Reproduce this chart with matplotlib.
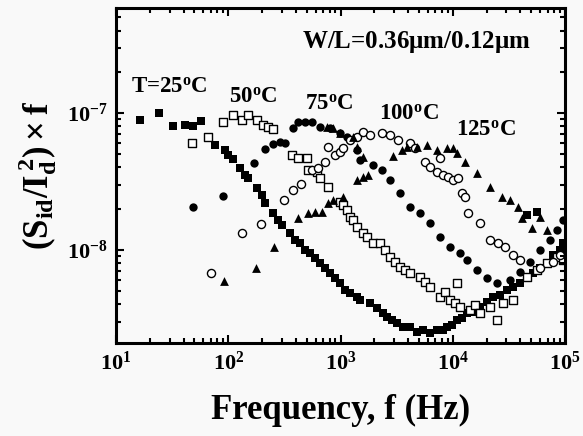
import matplotlib
matplotlib.use("Agg")
import matplotlib.pyplot as plt
from matplotlib.ticker import LogLocator, NullFormatter

# data: frequency (Hz) and normalized noise (S_id/I_d^2)*f
f25 = [16.4, 24.2, 32.2, 41.2, 48.5, 57.2, 76.2, 93.5, 99.5, 110, 127, 141, 150, 180, 200,
       212, 250, 277, 301, 355, 394, 436, 483, 535, 593, 656, 728, 805, 893, 990, 1096, 1216,
       1403, 1493, 1832, 2115, 2393, 2596, 2877, 3187, 3606, 4159, 4801, 5433, 6266, 7244,
       8185, 8893, 9840, 10920, 12090, 13400, 15140, 17490, 20190, 22840, 26370, 30410,
       34430, 39700, 45830, 51850, 59880, 69180, 78200, 90190, 95950, 45830, 56360]
s25 = [8.89e-8, 1.00e-7, 8.04e-8, 8.17e-8, 8.04e-8, 8.74e-8, 5.84e-8, 5.37e-8, 4.93e-8,
       4.61e-8, 3.97e-8, 3.53e-8, 3.35e-8, 2.84e-8, 2.52e-8, 2.20e-8, 1.86e-8, 1.66e-8,
       1.52e-8, 1.33e-8, 1.18e-8, 1.12e-8, 1.00e-8, 9.51e-9, 8.75e-9, 8.04e-9, 7.39e-9,
       6.79e-9, 6.25e-9, 5.74e-9, 5.11e-9, 4.85e-9, 4.54e-9, 4.32e-9, 4.10e-9, 3.78e-9,
       3.47e-9, 3.24e-9, 3.08e-9, 2.93e-9, 2.74e-9, 2.74e-9, 2.52e-9, 2.61e-9, 2.48e-9,
       2.61e-9, 2.61e-9, 2.74e-9, 2.84e-9, 3.08e-9, 3.19e-9, 3.47e-9, 3.53e-9, 3.84e-9,
       4.17e-9, 4.54e-9, 4.69e-9, 5.11e-9, 5.37e-9, 5.74e-9, 6.25e-9, 6.79e-9, 7.39e-9,
       8.04e-9, 9.20e-9, 1.00e-8, 1.12e-8, 1.80e-8, 1.89e-8]

f50 = [47.5, 66.1, 89.8, 110, 133, 150, 180, 204, 226, 250, 370, 418, 504, 513, 618, 656,
       774, 990, 1053, 1143, 1216, 1293, 1403, 1585, 1723, 1949, 2249, 2489, 2761, 3062,
       3388, 3757, 4159, 5108, 5662, 6266, 7696, 8530, 9461, 10470, 10920, 11610, 14250,
       15780, 17490, 21480, 24790, 28050, 34430, 45830, 56360, 69180, 84880, 95950]
s50 = [6.04e-8, 6.68e-8, 8.60e-8, 9.67e-8, 8.89e-8, 9.67e-8, 8.89e-8, 8.17e-8, 7.90e-8,
       7.64e-8, 4.93e-8, 4.69e-8, 4.69e-8, 3.84e-8, 3.71e-8, 3.35e-8, 2.88e-8, 2.24e-8,
       2.13e-8, 1.96e-8, 1.74e-8, 1.66e-8, 1.47e-8, 1.33e-8, 1.24e-8, 1.12e-8, 1.12e-8,
       1.00e-8, 8.89e-9, 8.17e-9, 7.52e-9, 7.15e-9, 6.79e-9, 6.35e-9, 5.84e-9, 5.37e-9,
       4.54e-9, 4.93e-9, 4.32e-9, 4.10e-9, 5.74e-9, 3.84e-9, 3.65e-9, 3.97e-9, 3.47e-9,
       3.84e-9, 3.08e-9, 4.10e-9, 4.32e-9, 6.35e-9, 7.15e-9, 8.04e-9, 8.89e-9, 8.45e-9]

f75 = [48.5, 89.8, 170, 212, 250, 289, 321, 378, 418, 483, 557, 656, 805, 990, 1143, 1216,
       1403, 1493, 1949, 2344, 2761, 3388, 4159, 5108, 6266, 7696, 9461, 11610, 13400,
       16450, 20190, 24790, 32360, 39700, 48750, 59880, 73480, 84880, 95950]
s75 = [2.06e-8, 2.48e-8, 4.32e-8, 5.46e-8, 5.94e-8, 6.14e-8, 6.04e-8, 7.77e-8, 8.60e-8,
       8.60e-8, 8.60e-8, 7.90e-8, 7.77e-8, 7.15e-8, 6.68e-8, 6.35e-8, 5.37e-8, 4.54e-8,
       4.17e-8, 3.84e-8, 3.24e-8, 2.61e-8, 2.06e-8, 1.86e-8, 1.57e-8, 1.24e-8, 1.05e-8,
       9.51e-9, 8.45e-9, 7.15e-9, 6.25e-9, 5.74e-9, 6.04e-9, 6.91e-9, 8.17e-9, 1.00e-8,
       1.18e-8, 1.40e-8, 1.66e-8]

f100 = [70.2, 133, 196, 314, 378, 445, 557, 631, 728, 774, 893, 990, 1053, 1216, 1403,
        1585, 1832, 2344, 2761, 3252, 4159, 4613, 5662, 6266, 7244, 7696, 8185, 9078,
        10050, 11140, 12090, 12850, 13680, 17490, 21480, 25300, 29190, 34430, 39700,
        59880, 78200, 90190]
s100 = [6.79e-9, 1.33e-8, 1.55e-8, 2.32e-8, 2.74e-8, 3.03e-8, 3.84e-8, 3.97e-8, 4.39e-8,
        5.65e-8, 4.93e-8, 5.19e-8, 5.55e-8, 6.35e-8, 6.68e-8, 7.27e-8, 6.91e-8, 7.15e-8,
        6.91e-8, 6.35e-8, 6.04e-8, 5.55e-8, 4.39e-8, 4.03e-8, 3.71e-8, 4.69e-8, 3.53e-8,
        3.41e-8, 3.24e-8, 3.35e-8, 2.61e-8, 2.44e-8, 1.86e-8, 1.57e-8, 1.18e-8, 1.12e-8,
        1.05e-8, 9.20e-9, 8.45e-9, 7.39e-9, 8.17e-9, 9.20e-9]

f125 = [91.6, 177, 256, 418, 513, 593, 684, 774, 857, 1053, 1403, 1585, 1758, 2938, 3532,
        3910, 4801, 5902, 7244, 8893, 10050, 10920, 12850, 16450, 21480, 27480, 32360,
        38130, 41390, 50790, 59880, 69180, 759, 857, 990, 1293, 1403, 1585]
s125 = [5.94e-9, 7.39e-9, 1.05e-8, 1.71e-8, 1.86e-8, 1.89e-8, 1.89e-8, 2.20e-8, 2.32e-8,
        2.44e-8, 3.24e-8, 3.41e-8, 3.53e-8, 4.85e-8, 5.37e-8, 5.65e-8, 5.65e-8, 5.84e-8,
        5.37e-8, 5.55e-8, 5.55e-8, 5.11e-8, 4.39e-8, 3.65e-8, 2.88e-8, 2.44e-8, 2.32e-8,
        2.06e-8, 1.71e-8, 1.45e-8, 1.74e-8, 1.40e-8, 7.90e-8, 7.77e-8, 7.15e-8, 6.68e-8,
        5.65e-8, 4.77e-8]

plt.rcParams["font.family"] = "Liberation Serif"
plt.rcParams["font.weight"] = "bold"
plt.rcParams["axes.labelweight"] = "bold"
plt.rcParams["mathtext.fontset"] = "custom"
plt.rcParams["mathtext.rm"] = "Liberation Serif:bold"
plt.rcParams["mathtext.it"] = "Liberation Serif:bold"
plt.rcParams["mathtext.bf"] = "Liberation Serif:bold"
plt.rcParams["mathtext.default"] = "bf"

fig = plt.figure(figsize=(5.83, 4.36), dpi=100, facecolor="#f9f9f9")
ax = fig.add_axes([0.199, 0.2133, 0.7702, 0.7683], facecolor="#f9f9f9")

ms = 32
ax.scatter(f25, s25, marker="s", s=ms, c="black", linewidths=0)
ax.scatter(f50, s50, marker="s", s=ms, facecolors="white", edgecolors="black", linewidths=1.0)
ax.scatter(f75, s75, marker="o", s=ms + 4, c="black", linewidths=0)
ax.scatter(f100, s100, marker="o", s=ms + 2, facecolors="white", edgecolors="black", linewidths=1.0)
ax.scatter(f125, s125, marker="^", s=ms + 8, c="black", linewidths=0)

ax.set_xscale("log")
ax.set_yscale("log")
ax.set_xlim(10, 1e5)
ax.set_ylim(2.09e-9, 5.84e-7)
ax.set_xticks([1e1, 1e2, 1e3, 1e4, 1e5])
ax.set_yticks([1e-8, 1e-7])
ax.xaxis.set_minor_locator(LogLocator(base=10, subs=range(2, 10), numticks=20))
ax.yaxis.set_minor_locator(LogLocator(base=10, subs=range(2, 10), numticks=20))
ax.yaxis.set_minor_formatter(NullFormatter())
ax.xaxis.set_minor_formatter(NullFormatter())

for sp in ax.spines.values():
    sp.set_linewidth(2.2)
ax.tick_params(which="both", direction="in", top=True, right=True, width=1.5)
ax.tick_params(which="major", length=6, labelsize=16, pad=6)
ax.tick_params(which="minor", length=3.5)

ax.set_xlabel("Frequency, f (Hz)", fontsize=25, labelpad=14)
ax.set_ylabel(r"$(S_{id}/I_d^{\,2})\times f$", fontsize=25, labelpad=6)

ax.text(0.67, 0.899, r"W/L=0.36$\mu$m/0.12$\mu$m", transform=ax.transAxes,
        ha="center", va="center", fontsize=18, fontweight="bold")
labels = [r"T=25$^o$C", r"50$^o$C", r"75$^o$C", r"100$^o$C", r"125$^o$C"]
lx = [0.118, 0.305, 0.475, 0.653, 0.823]
ly = [0.763, 0.734, 0.713, 0.683, 0.636]
for t, x, y in zip(labels, lx, ly):
    ax.text(x, y, t, transform=ax.transAxes, ha="center", va="center", fontsize=16.5,
            fontweight="bold")

fig.savefig("out.png", dpi=100, facecolor=fig.get_facecolor())
